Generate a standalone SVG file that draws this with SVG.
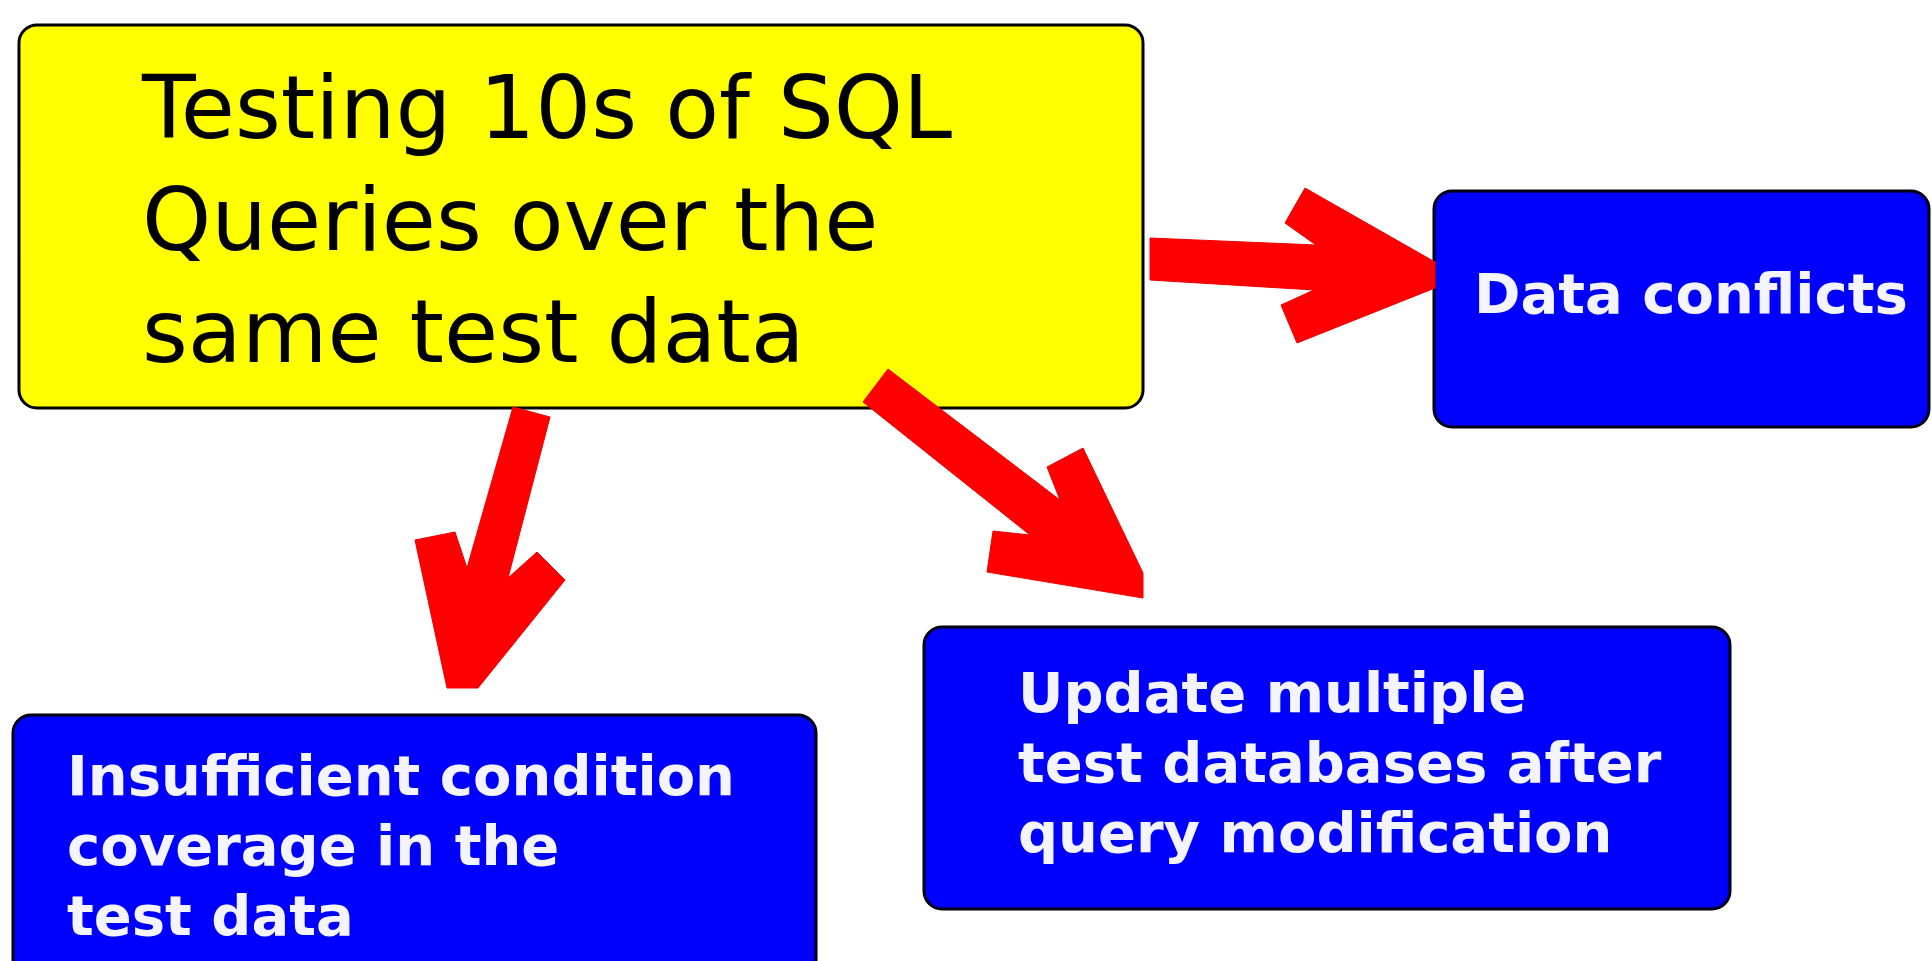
<svg xmlns="http://www.w3.org/2000/svg" width="1932" height="961" viewBox="0 0 1932 961">
<style>
.bg{fill:#ffffff}
.main{fill:#ffff00;stroke:#000000;stroke-width:3}
.blue{fill:#0000ff;stroke:#000010;stroke-width:3}
.mt{font-family:"DejaVu Sans",sans-serif;font-size:88px;fill:#000000}
.bt{font-family:"DejaVu Sans",sans-serif;font-weight:bold;font-size:56px;fill:#f4f4ff}
.arrow{fill:#ff0000;stroke:#ee0000;stroke-width:1}
</style>
<rect class="bg" x="0" y="0" width="1932" height="961"/>
<g id="node-main">
<rect class="main" x="19" y="25" width="1124" height="383" rx="18" ry="18"/>
<text class="mt" x="142" y="138">Testing 10s of SQL</text>
<text class="mt" x="142" y="250">Queries over the</text>
<text class="mt" x="142" y="362">same test data</text>
</g>
<g id="node-conflicts">
<rect class="blue" x="1434" y="191" width="495" height="236" rx="18" ry="18"/>
<text class="bt" x="1474" y="313">Data conflicts</text>
</g>
<g id="node-update">
<rect class="blue" x="924" y="627" width="806" height="282" rx="18" ry="18"/>
<text class="bt" x="1018" y="712">Update multiple</text>
<text class="bt" x="1018" y="782">test databases after</text>
<text class="bt" x="1018" y="852">query modification</text>
</g>
<g id="node-coverage">
<rect class="blue" x="13" y="715" width="803" height="280" rx="18" ry="18"/>
<text class="bt" x="67" y="795">Insufficient condition</text>
<text class="bt" x="67" y="865">coverage in the</text>
<text class="bt" x="67" y="935">test data</text>
</g>
<g id="connectors">
<polygon class="arrow" points="1150,238 1316,245 1285,223 1305,188 1435,262 1435,288 1297,343 1281,305 1314,290 1150,280"/>
<polygon class="arrow" points="513,407 550,417 508,578 537,552 565,580 478,688 447,688 415,540 455,532 467,568"/>
<polygon class="arrow" points="888,369 1060,500 1047,467 1083,448 1143,573 1143,598 987,572 993,531 1030,535 863,402"/>
</g>
</svg>
